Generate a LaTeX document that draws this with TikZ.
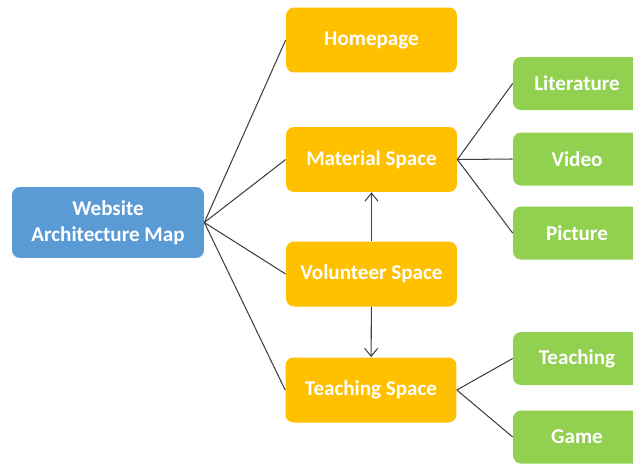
\documentclass[tikz,border=0pt]{standalone}
\usepackage{fontspec}
\setmainfont{Carlito}
\usetikzlibrary{arrows.meta}
\definecolor{mapblue}{HTML}{5B9BD5}
\definecolor{spaceorange}{HTML}{FFC000}
\definecolor{subgreen}{HTML}{92D050}
\definecolor{linkgray}{HTML}{404040}
\tikzset{
	box/.style={rounded corners=0.16cm, text=white, font=\fontsize{12}{15}\selectfont\bfseries, align=center, inner sep=0pt},
	mapbox/.style={box, fill=mapblue, minimum width=3.84cm, minimum height=1.42cm},
	spacebox/.style={box, fill=spaceorange, minimum width=3.42cm, minimum height=1.3cm},
	subbox/.style={box, fill=subgreen, minimum width=2.56cm, minimum height=1.06cm},
	link/.style={draw=linkgray, line width=0.6pt}
}

\begin{document}
\begin{tikzpicture}[x=0.02cm, y=-0.02cm]
		\useasboundingbox (0,0) rectangle (633,464);
		% Draw boxes.
		\node[mapbox] (web) at (108,222.5) {Website\\Architecture Map};
		\node[spacebox] (home) at (371.5,40) {Homepage};
		\node[spacebox] (material) at (371.5,159.5) {Material Space};
		\node[spacebox] (volunteer) at (371.5,274) {Volunteer Space};
		\node[spacebox] (teaching) at (371,390) {Teaching Space};
		\node[subbox] (lit) at (577,83.5) {Literature};
		\node[subbox] (video) at (577,159) {Video};
		\node[subbox] (pic) at (577,233) {Picture};
		\node[subbox] (teach) at (577,358.5) {Teaching};
		\node[subbox] (game) at (577,437) {Game};
		
		% Draw links.
		\foreach \n in {home,material,volunteer,teaching}
			\draw[link] (web.east) -- (\n.west);
		\foreach \n in {lit,video,pic}
			\draw[link] (material.east) -- (\n.west);
		\foreach \n in {teach,game}
			\draw[link] (teaching.east) -- (\n.west);
		\draw[link, -{Straight Barb[length=1.6mm, width=2.6mm]}] (volunteer) -- (material);
		\draw[link, -{Straight Barb[length=1.6mm, width=2.6mm]}] (volunteer) -- (teaching);
	\end{tikzpicture}
\end{document}
